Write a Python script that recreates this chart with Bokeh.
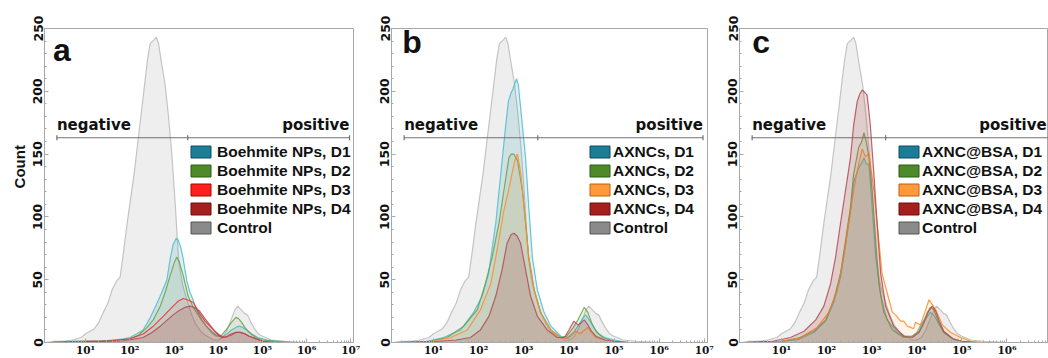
import math
from bokeh.plotting import figure
from bokeh.layouts import row
from bokeh.models import FixedTicker, Legend, LegendItem, Label, Range1d
from bokeh.embed import file_html
from bokeh.resources import INLINE
from bokeh.core.properties import value

# ---------------- data (x = log10 fluorescence, y = count) ----------------
decade_ticks = [1, 2, 3, 4, 5, 6, 7]
decade_labels = ["10¹", "10²", "10³", "10⁴", "10⁵", "10⁶", "10⁷"]
count_ticks = [0, 50, 100, 150, 200, 250]

control_pts = [(0.1, 0), (0.3, 1), (0.5, 1), (0.7, 2), (0.9, 4), (1.0, 7), (1.1, 9), (1.2, 11),
               (1.3, 16), (1.4, 24), (1.5, 31), (1.6, 42), (1.7, 49), (1.78, 52), (1.85, 70),
               (1.94, 95), (2.0, 110), (2.1, 135), (2.2, 165), (2.3, 195), (2.4, 225), (2.46, 238),
               (2.52, 240), (2.6, 243), (2.65, 238), (2.72, 222), (2.8, 205), (2.88, 178),
               (2.95, 150), (3.02, 114), (3.1, 68), (3.15, 55), (3.2, 45), (3.3, 33), (3.4, 22),
               (3.5, 14), (3.6, 9), (3.7, 6), (3.8, 4), (3.9, 2), (4.0, 2), (4.1, 4), (4.2, 10),
               (4.3, 19), (4.38, 26), (4.44, 29), (4.52, 26), (4.6, 23), (4.66, 22), (4.74, 16),
               (4.82, 11), (4.9, 7), (5.0, 5), (5.2, 2), (5.5, 1), (6.0, 0), (7.0, 0)]

a_labels = ["Boehmite NPs, D1", "Boehmite NPs, D2", "Boehmite NPs, D3", "Boehmite NPs, D4", "Control"]
b_labels = ["AXNCs, D1", "AXNCs, D2", "AXNCs, D3", "AXNCs, D4", "Control"]
c_labels = ["AXNC@BSA, D1", "AXNC@BSA, D2", "AXNC@BSA, D3", "AXNC@BSA, D4", "Control"]

a_d1 = [(0.2, 0), (0.6, 1), (1.0, 1), (1.3, 1), (1.6, 2), (1.86, 3), (2.0, 4), (2.16, 7), (2.3, 10),
        (2.45, 19), (2.6, 30), (2.7, 38), (2.84, 50), (2.92, 68), (2.98, 78), (3.05, 83), (3.1, 81),
        (3.15, 76), (3.2, 68), (3.29, 49), (3.36, 40), (3.43, 34), (3.5, 27), (3.58, 21), (3.65, 17),
        (3.73, 13), (3.85, 9), (3.96, 6), (4.08, 4), (4.2, 7), (4.3, 10), (4.4, 12), (4.48, 13),
        (4.55, 12), (4.65, 10), (4.75, 7), (4.9, 4), (5.1, 2), (5.4, 1), (5.7, 0), (7.0, 0)]
a_d2 = [(0.2, 0), (0.8, 1), (1.3, 1), (1.7, 2), (2.0, 3), (2.2, 6), (2.39, 12), (2.53, 18), (2.69, 29),
        (2.8, 40), (2.91, 53), (3.0, 63), (3.06, 68), (3.12, 64), (3.21, 53), (3.32, 37), (3.42, 29),
        (3.51, 24), (3.62, 18), (3.73, 13), (3.85, 8), (3.96, 5), (4.08, 6), (4.2, 11), (4.3, 16),
        (4.4, 20), (4.46, 19), (4.53, 16), (4.6, 12), (4.7, 8), (4.85, 4), (5.0, 2), (5.3, 1),
        (5.6, 0), (7.0, 0)]
a_d3 = [(0.2, 0), (1.0, 1), (1.5, 1), (2.01, 3), (2.31, 7), (2.53, 13), (2.76, 21), (2.98, 29),
        (3.1, 33), (3.21, 35), (3.3, 34), (3.43, 32), (3.5, 28), (3.58, 23), (3.7, 17), (3.81, 13),
        (3.9, 10), (4.03, 5), (4.1, 4), (4.2, 5), (4.3, 7), (4.4, 8), (4.5, 8), (4.6, 7), (4.7, 5),
        (4.85, 3), (5.0, 1), (5.3, 0), (7.0, 0)]
a_d4 = [(0.2, 0), (1.2, 1), (1.8, 1), (2.3, 4), (2.5, 8), (2.69, 13), (2.85, 18), (2.98, 22), (3.1, 25),
        (3.25, 28), (3.36, 29), (3.45, 28), (3.58, 25), (3.7, 19), (3.81, 14), (3.92, 9), (4.03, 6),
        (4.15, 4), (4.3, 6), (4.4, 8), (4.5, 8), (4.6, 7), (4.7, 5), (4.85, 3), (5.0, 1), (5.3, 0),
        (7.0, 0)]

b_d1 = [(0.2, 0), (0.86, 1), (1.22, 4), (1.6, 10), (1.89, 24), (2.08, 37), (2.22, 55), (2.38, 95),
        (2.49, 134), (2.6, 173), (2.66, 192), (2.71, 198), (2.76, 202), (2.84, 210), (2.88, 205),
        (2.93, 187), (3.04, 147), (3.11, 108), (3.19, 68), (3.3, 42), (3.45, 24), (3.6, 13),
        (3.82, 5), (3.97, 4), (4.1, 8), (4.2, 13), (4.3, 19), (4.37, 22), (4.45, 18), (4.55, 12),
        (4.65, 7), (4.8, 4), (5.0, 2), (5.3, 0), (7.0, 0)]
b_d2 = [(0.2, 0), (0.9, 1), (1.3, 4), (1.67, 13), (1.97, 26), (2.15, 47), (2.3, 68), (2.45, 95),
        (2.56, 121), (2.67, 147), (2.72, 150), (2.78, 150), (2.86, 145), (2.97, 121), (3.04, 95),
        (3.11, 68), (3.23, 42), (3.37, 24), (3.6, 10), (3.82, 4), (3.95, 5), (4.1, 12), (4.2, 18),
        (4.3, 25), (4.34, 28), (4.42, 24), (4.5, 16), (4.6, 9), (4.75, 4), (5.0, 1), (5.3, 0),
        (7.0, 0)]
b_d3 = [(0.2, 0), (1.0, 1), (1.38, 4), (1.75, 10), (2.04, 26), (2.27, 47), (2.41, 74), (2.56, 105),
        (2.71, 129), (2.8, 145), (2.86, 150), (2.92, 138), (2.97, 121), (3.04, 95), (3.11, 68),
        (3.23, 42), (3.37, 24), (3.6, 10), (3.82, 4), (3.95, 3), (4.05, 5), (4.15, 9), (4.25, 7),
        (4.35, 10), (4.41, 12), (4.5, 8), (4.6, 4), (4.8, 2), (5.0, 1), (5.3, 0), (7.0, 0)]
b_d4 = [(0.2, 0), (1.1, 1), (1.5, 2), (1.82, 4), (2.04, 10), (2.23, 21), (2.38, 37), (2.52, 58),
        (2.63, 79), (2.72, 86), (2.78, 87), (2.85, 85), (2.93, 79), (3.04, 58), (3.15, 37), (3.3, 21),
        (3.52, 10), (3.74, 4), (3.9, 4), (4.0, 10), (4.11, 17), (4.2, 14), (4.28, 16), (4.34, 18),
        (4.42, 14), (4.5, 9), (4.6, 5), (4.8, 2), (5.0, 1), (5.3, 0), (7.0, 0)]

c_d1 = [(0.2, 0), (1.0, 1), (1.35, 2), (1.72, 8), (1.98, 17), (2.16, 32), (2.31, 52), (2.42, 78),
        (2.53, 104), (2.6, 128), (2.71, 139), (2.78, 143), (2.83, 147), (2.88, 142), (2.94, 142),
        (3.01, 108), (3.09, 68), (3.2, 37), (3.34, 18), (3.57, 8), (3.75, 5), (3.9, 5), (4.0, 8),
        (4.1, 15), (4.2, 19), (4.3, 24), (4.38, 22), (4.5, 14), (4.6, 8), (4.8, 3), (5.0, 1),
        (5.3, 0), (7.0, 0)]
c_d2 = [(0.2, 0), (1.0, 1), (1.35, 3), (1.72, 9), (1.98, 18), (2.16, 34), (2.31, 55), (2.42, 81),
        (2.53, 108), (2.6, 134), (2.71, 155), (2.78, 160), (2.83, 167), (2.88, 160), (2.94, 147),
        (3.01, 121), (3.09, 81), (3.16, 47), (3.27, 24), (3.46, 10), (3.71, 4), (3.9, 5), (4.05, 9),
        (4.15, 17), (4.25, 25), (4.3, 28), (4.38, 26), (4.5, 15), (4.6, 8), (4.8, 3), (5.0, 1),
        (5.3, 0), (7.0, 0)]
c_d3 = [(0.2, 0), (1.0, 1), (1.42, 4), (1.79, 12), (2.05, 24), (2.24, 42), (2.38, 68), (2.49, 95),
        (2.6, 121), (2.7, 140), (2.79, 154), (2.86, 148), (2.94, 150), (3.05, 121), (3.16, 81),
        (3.23, 55), (3.34, 40), (3.46, 24), (3.53, 22), (3.64, 17), (3.71, 17), (3.79, 13),
        (3.86, 12), (3.93, 11), (3.97, 16), (4.03, 15), (4.08, 14), (4.18, 24), (4.27, 34),
        (4.35, 30), (4.42, 26), (4.57, 14), (4.75, 8), (4.97, 4), (5.2, 1), (5.5, 0), (7.0, 0)]
c_d4 = [(0.2, 0), (0.8, 1), (1.2, 4), (1.5, 9), (1.76, 18), (1.94, 29), (2.09, 47), (2.2, 68),
        (2.31, 95), (2.42, 121), (2.53, 147), (2.6, 173), (2.68, 192), (2.74, 198), (2.79, 201),
        (2.85, 199), (2.9, 197), (2.97, 173), (3.05, 134), (3.12, 95), (3.2, 55), (3.31, 29),
        (3.49, 13), (3.71, 5), (3.9, 4), (4.05, 8), (4.15, 15), (4.25, 24), (4.34, 29), (4.42, 25),
        (4.5, 17), (4.6, 9), (4.8, 3), (5.0, 1), (5.3, 0), (7.0, 0)]

# ---------------- styles ----------------
TEAL = dict(line="#4bbccf", fill="#2a9db5", falpha=0.15, patch="#1c7d97", edge="#0e4c5e")
GREEN = dict(line="#6f9f45", fill="#5a9a30", falpha=0.10, patch="#4e8a2a", edge="#2d5a14")
RED = dict(line="#ee3030", fill="#ff3030", falpha=0.10, patch="#ff1f1f", edge="#b00000")
ORANGE = dict(line="#ff8c2a", fill="#ff9030", falpha=0.10, patch="#ff9a3c", edge="#c06010")
DRED = dict(line="#b04a55", fill="#a53232", falpha=0.18, patch="#a51f1f", edge="#6a0e0e")
CTRL_PATCH = ("#8a8a8a", "#555555")

AXIS_COL = "#a8a8a8"
GATE_Y = 163
H = 358
NAN = float("nan")


def unzip(pts):
    return [p[0] for p in pts], [p[1] for p in pts]


def panel(letter, letter_xy, series, styles, labels, width, bl, br, x_end, leg_x, leg_standoff,
          show_count, pos_x):
    p = figure(width=width, height=H, x_range=Range1d(0.07, x_end), y_range=Range1d(0, 250),
               output_backend="svg", toolbar_location=None,
               min_border_left=bl, min_border_right=br, min_border_top=28, min_border_bottom=12)
    p.grid.visible = False
    p.outline_line_color = AXIS_COL
    p.background_fill_color = "white"

    # axes
    minor = [d + math.log10(k) for d in range(0, 7) for k in range(2, 10)]
    p.xaxis.ticker = FixedTicker(ticks=decade_ticks, minor_ticks=minor)
    p.xaxis.major_label_overrides = {t: l for t, l in zip(decade_ticks, decade_labels)}
    p.xaxis.major_label_text_font = "DejaVu Serif"
    p.xaxis.major_label_text_font_style = "bold"
    p.xaxis.major_label_text_font_size = "10.5px"
    p.xaxis.major_label_text_color = "#111111"
    p.xaxis.major_label_standoff = 1
    p.xaxis.major_tick_in = 4
    p.xaxis.major_tick_out = 0
    p.xaxis.minor_tick_in = 2
    p.xaxis.minor_tick_out = 0
    p.yaxis.ticker = FixedTicker(ticks=count_ticks, minor_ticks=list(range(0, 251, 10)))
    p.yaxis.major_label_orientation = "vertical"
    p.yaxis.major_label_text_font = "DejaVu Sans"
    p.yaxis.major_label_text_font_style = "bold"
    p.yaxis.major_label_text_font_size = "12.5px"
    p.yaxis.major_label_text_color = "#111111"
    p.yaxis.major_label_standoff = 2
    p.yaxis.major_tick_in = 4
    p.yaxis.major_tick_out = 0
    p.yaxis.minor_tick_in = 2
    p.yaxis.minor_tick_out = 0
    for ax in (p.xaxis, p.yaxis):
        ax.axis_line_color = AXIS_COL
        ax.major_tick_line_color = AXIS_COL
        ax.minor_tick_line_color = AXIS_COL
    if show_count:
        p.yaxis.axis_label = "\u00a0" * 9 + "Count"
        p.yaxis.axis_label_text_font = "Liberation Sans"
        p.yaxis.axis_label_text_font_style = "bold"
        p.yaxis.axis_label_text_font_size = "15px"
        p.yaxis.axis_label_text_color = "#111111"
        p.yaxis.axis_label_standoff = 3

    # control histogram
    cx, cy = unzip(control_pts)
    p.varea(x=cx, y1=[0] * len(cx), y2=cy, fill_color="#eeeeee", fill_alpha=1.0)
    p.line(cx, cy, line_color="#c4c4c4", line_width=1.2)

    # sample histograms
    for pts, st in zip(series, styles):
        x, y = unzip(pts)
        p.varea(x=x, y1=[0] * len(x), y2=y, fill_color=st["fill"], fill_alpha=st["falpha"])
        p.line(x, y, line_color=st["line"], line_width=1.2, line_alpha=0.85)

    # gate (negative / positive)
    gx0, gmid, gx1 = 0.35, 3.31, 6.97
    p.segment(x0=[gx0, gmid], y0=[GATE_Y, GATE_Y], x1=[gmid, gx1], y1=[GATE_Y, GATE_Y],
              line_color="#707070", line_width=1.2)
    p.segment(x0=[gx0, gmid, gx1], y0=[GATE_Y - 2] * 3, x1=[gx0, gmid, gx1], y1=[GATE_Y + 2] * 3,
              line_color="#707070", line_width=1.2)
    p.text(x=[gx0], y=[GATE_Y + 3], text=["negative"], text_font=value("DejaVu Sans"),
           text_font_style="bold", text_font_size="15px", text_align="left",
           text_baseline="bottom", text_color="#111111")
    p.text(x=[pos_x], y=[GATE_Y + 3], text=["positive"], text_font=value("DejaVu Sans"),
           text_font_style="bold", text_font_size="15px", text_align="right",
           text_baseline="bottom", text_color="#111111")

    # panel letter
    p.add_layout(Label(x=letter_xy[0], y=letter_xy[1], text=letter, text_font="Liberation Sans",
                       text_font_style="bold", text_font_size="32px", text_color="#111111",
                       text_baseline="alphabetic"))

    # legend (swatches from hidden NaN quads)
    items = []
    patches = [(st["patch"], st["edge"]) for st in styles] + [CTRL_PATCH]
    for lab, (fc, ec) in zip(labels, patches):
        r = p.quad(left=[NAN], right=[NAN], top=[NAN], bottom=[NAN], fill_color=fc,
                   line_color=ec, line_width=1)
        items.append(LegendItem(label=lab, renderers=[r]))
    leg = Legend(items=items, location=(leg_x, 105), glyph_width=25, glyph_height=15,
                 label_height=19, spacing=0, padding=0, margin=0, label_standoff=leg_standoff,
                 border_line_color=None, background_fill_alpha=0,
                 label_text_font="Liberation Sans", label_text_font_style="bold",
                 label_text_font_size="15.5px", label_text_color="#111111")
    p.add_layout(leg)
    return p


pa = panel("a", (0.26, 233), [a_d1, a_d2, a_d3, a_d4], [TEAL, GREEN, RED, DRED], a_labels,
           width=370, bl=44, br=17, x_end=7.06, leg_x=144, leg_standoff=4, show_count=True,
           pos_x=6.97)
pb = panel("b", (0.31, 239), [b_d1, b_d2, b_d3, b_d4], [TEAL, GREEN, ORANGE, DRED], b_labels,
           width=350, bl=21, br=13, x_end=7.07, leg_x=196, leg_standoff=1, show_count=False,
           pos_x=6.97)
pc = panel("c", (0.35, 239), [c_d1, c_d2, c_d3, c_d4], [TEAL, GREEN, ORANGE, DRED], c_labels,
           width=328, bl=19, br=0, x_end=6.92, leg_x=157, leg_standoff=1, show_count=False,
           pos_x=6.88)

layout = row(pa, pb, pc, spacing=0)
open("out.html", "w").write(file_html(layout, INLINE))
